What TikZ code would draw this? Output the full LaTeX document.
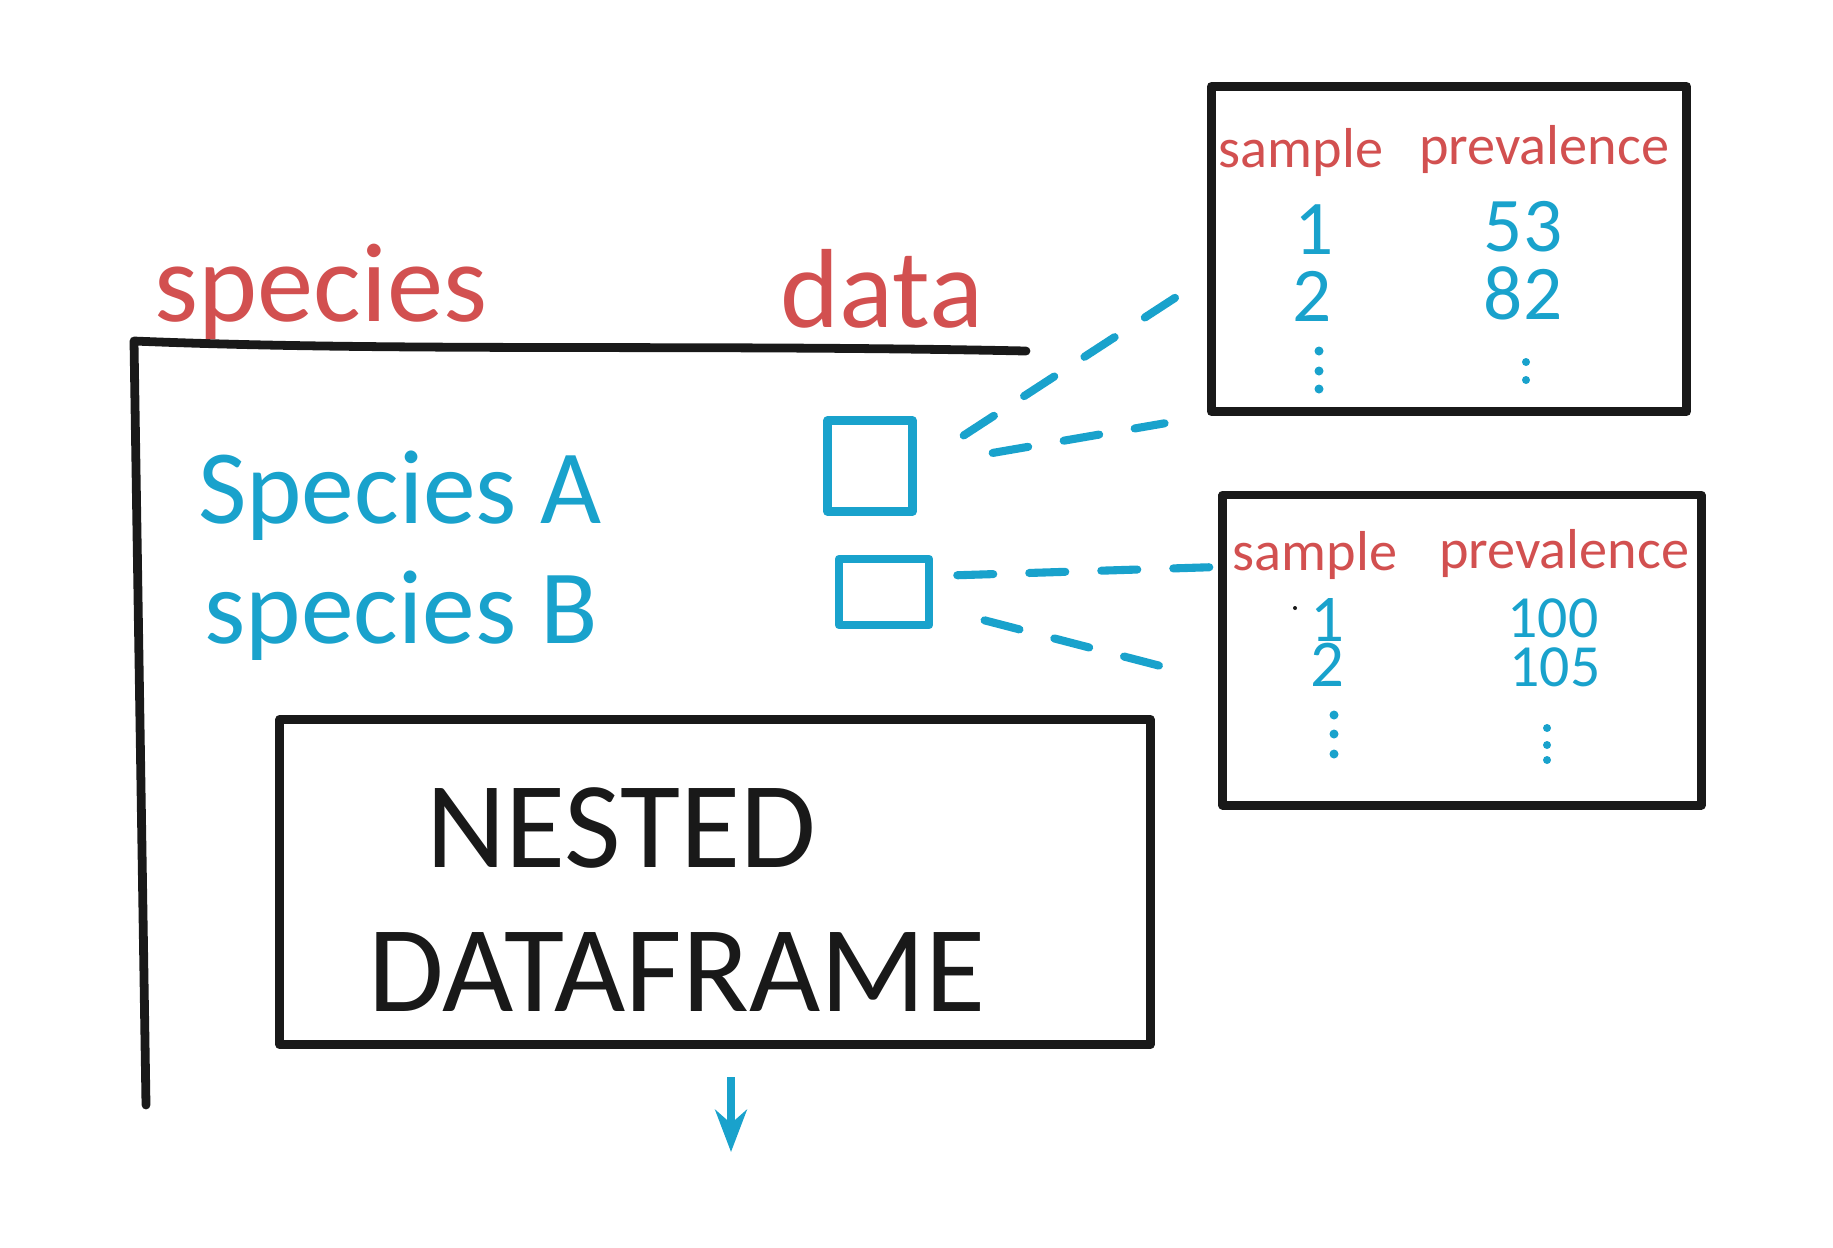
\documentclass[tikz,border=0pt]{standalone}
\usepackage{fontspec}
\setmainfont{Carlito}
\usepackage{tikz}
\usetikzlibrary{arrows.meta, positioning, calc}
\definecolor{inkred}{RGB}{210, 80, 80}
\definecolor{inkblue}{RGB}{25, 162, 204}
\definecolor{inkblack}{RGB}{25, 25, 25}

\begin{document}
\begin{tikzpicture}[x=0.01cm, y=-0.01cm, >=Stealth,
    ink/.style={draw=inkblack, line width=2.5pt, line cap=round, line join=round},
    cell/.style={draw=inkblue, line width=2.4pt, line join=round, inner sep=0pt},
    link/.style={inkblue, line width=2.3pt, line cap=round, dash pattern=on 0.36cm off 0.36cm},
    colhead/.style={text=inkred, anchor=base, inner sep=1pt, font=\fontsize{32}{36}\selectfont},
    rowname/.style={text=inkblue, anchor=base, inner sep=1pt, font=\fontsize{30}{34}\selectfont},
    subhead/.style={text=inkred, anchor=base, inner sep=0pt, font=\fontsize{16}{18}\selectfont},
    subval/.style={text=inkblue, anchor=base, inner sep=0pt}]
  \useasboundingbox (0,0) rectangle (1833,1247);

  % Outer table
  \draw[ink] (1026,351) .. controls (700,344) and (400,352) .. (134,341) -- (146,1105);
  \node[colhead] (species) at (321,321) {species};
  \node[colhead] (data) at (882,327) {data};
  \node[rowname] (spA) at (400,523) {Species A};
  \node[rowname] (spB) at (401,643) {species B};
  \node[cell, minimum width=0.85cm, minimum height=0.91cm] (boxA) at (870,466) {};
  \node[cell, minimum width=0.90cm, minimum height=0.66cm] (boxB) at (884,592) {};

  % Nested dataframe box
  \node[ink, minimum width=8.7cm, minimum height=3.25cm] (nested) at (715,882) {};
  \node[anchor=base, inner sep=1pt, text=inkblack, font=\fontsize{35}{40}\selectfont] (nestTop) at (621,867) {NESTED};
  \node[anchor=base, inner sep=1pt, text=inkblack, font=\fontsize{35}{40}\selectfont] (nestBot) at (677,1011) {DATAFRAME};
  \coordinate (arrowEnd) at (731,1152);
  \draw[->, inkblue, line width=2pt, shorten <=0.28cm] (nested.south -| arrowEnd) -- (arrowEnd);

  % Species A table
  \node[ink, minimum width=4.75cm, minimum height=3.25cm] (tabA) at (1449,249) {};
  \node[subhead] (sampA) at (1301,167) {sample};
  \node[subhead] (prevA) at (1544,164) {prevalence};
  \node[subval, font=\fontsize{22}{24}\selectfont] (a1) at (1314,254) {1};
  \node[subval, font=\fontsize{22}{24}\selectfont] (a53) at (1523,251) {53};
  \node[subval, font=\fontsize{22}{24}\selectfont] (a2) at (1312,321) {2};
  \node[subval, font=\fontsize{22}{24}\selectfont] (a82) at (1523,319) {82};
  \foreach \y in {351,371,389} \fill[inkblue] (1319,\y) circle (0.045cm);
  \foreach \y in {362,380} \fill[inkblue] (1526,\y) circle (0.04cm);

  % Species B table
  \node[ink, minimum width=4.78cm, minimum height=3.1cm] (tabB) at (1462,650) {};
  \node[subhead] (sampB) at (1315,570) {sample};
  \node[subhead] (prevB) at (1564,568) {prevalence};
  \node[subval, font=\fontsize{19}{21}\selectfont] (b1) at (1327,641) {1};
  \node[subval, font=\fontsize{17}{19}\selectfont] (b100) at (1553,637) {100};
  \node[subval, font=\fontsize{19}{21}\selectfont] (b2) at (1327,686) {2};
  \node[subval, font=\fontsize{17}{19}\selectfont] (b105) at (1555,686) {105};
  \foreach \y in {715,734,754} \fill[inkblue] (1334,\y) circle (0.045cm);
  \foreach \y in {728,745,760} \fill[inkblue] (1547,\y) circle (0.04cm);
  \fill[inkblack] (1295,608) circle (0.02cm);

  % links from cells to nested tables
  \draw[link, shorten <=0.56cm, shorten >=0.06cm] (boxA.east) -- ([yshift=-0.28cm]tabA.west);
  \draw[link, shorten <=0.77cm, shorten >=0.43cm] (boxA.east) -- (tabA.south west);
  \draw[link, shorten <=0.24cm, shorten >=0.06cm] ([yshift=0.16cm]boxB.east) -- ([yshift=0.83cm]tabB.west);
  \draw[link, shorten <=0.53cm, shorten >=0.36cm] ([yshift=-0.15cm]boxB.east) -- ([yshift=-0.31cm]tabB.west);
\end{tikzpicture}
\end{document}
